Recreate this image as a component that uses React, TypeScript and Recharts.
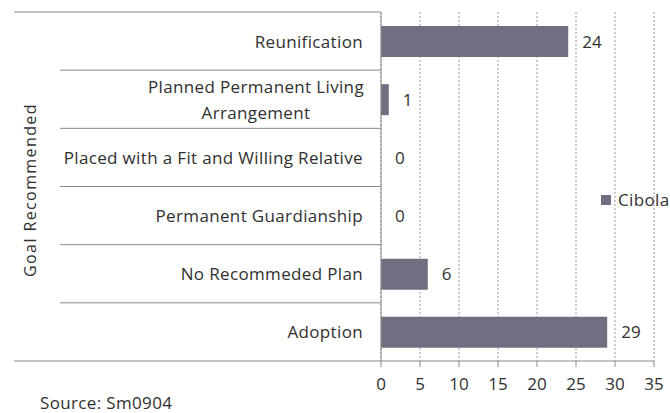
import React from 'react';
import { BarChart, Bar, XAxis, YAxis, CartesianGrid, LabelList, Legend } from 'recharts';

const categories = [
  'Reunification',
  'Planned Permanent Living Arrangement',
  'Placed with a Fit and Willing Relative',
  'Permanent Guardianship',
  'No Recommeded Plan',
  'Adoption',
];
const cibolaValues = [24, 1, 0, 0, 6, 29];
const xTicks = [0, 5, 10, 15, 20, 25, 30, 35];
const seriesName = 'Cibola';
const axisTitle = 'Goal Recommended';
const sourceNote = 'Source: Sm0904';

const data = categories.map((c, i) => ({ name: c, value: cibolaValues[i] }));

const W = 670;
const H = 413;
const MARGIN = { top: 12, right: 16, bottom: 22, left: 0 };
const X_AXIS_H = 30;
const Y_AXIS_W = 381;
const PLOT_H = H - MARGIN.top - MARGIN.bottom - X_AXIS_H;
const FONT = '"Open Sans", sans-serif';
const FS = 17;
const LS = 0.35;
const TEXT = '#303030';
const LINE = '#8a8a8a';
const BAR = '#6f6f81';

const wrapMap: Record<string, string[]> = {
  'Planned Permanent Living Arrangement': ['Planned Permanent Living', 'Arrangement'],
};

const CategoryTick = (props: any) => {
  const { y, payload, index } = props;
  const band = PLOT_H / categories.length;
  const top = y - band / 2;
  const bottom = y + band / 2;
  const right = Y_AXIS_W - 18;
  const lines = wrapMap[payload.value] || [payload.value];
  const isFirst = index === 0;
  const isLast = index === categories.length - 1;
  let textEl;
  if (lines.length === 1) {
    textEl = (
      <text x={right} y={y} textAnchor="end" dominantBaseline="central" fontSize={FS} fill={TEXT} fontFamily={FONT} letterSpacing={LS}>
        {lines[0]}
      </text>
    );
  } else {
    const center = right - 107;
    textEl = (
      <text textAnchor="middle" fontSize={FS} fill={TEXT} fontFamily={FONT} letterSpacing={LS}>
        {lines.map((l, i) => (
          <tspan key={i} x={center} y={y + (i - (lines.length - 1) / 2) * 26} dominantBaseline="central">
            {l}
          </tspan>
        ))}
      </text>
    );
  }
  return (
    <g>
      <line x1={isFirst ? 14 : 60} x2={Y_AXIS_W} y1={top} y2={top} stroke={LINE} strokeWidth={1} />
      {isLast && <line x1={14} x2={Y_AXIS_W} y1={bottom} y2={bottom} stroke={LINE} strokeWidth={1} />}
      {textEl}
    </g>
  );
};

const LegendContent = () => (
  <div style={{ display: 'flex', alignItems: 'center', fontFamily: FONT, fontSize: FS, color: TEXT, letterSpacing: LS, whiteSpace: 'nowrap' }}>
    <span style={{ display: 'inline-block', width: 10, height: 10, background: BAR, marginRight: 7 }} />
    <span>{seriesName}</span>
  </div>
);

export default function App() {
  return (
    <div style={{ position: 'absolute', left: 0, top: 0, width: W, height: H, background: '#fff', overflow: 'hidden' }}>
      <BarChart width={W} height={H} data={data} layout="vertical" margin={MARGIN} barSize={31}>
        <CartesianGrid horizontal={false} vertical={true} stroke="#9a9a9a" strokeDasharray="2 2" />
        <XAxis
          type="number"
          domain={[0, 35]}
          ticks={xTicks}
          height={X_AXIS_H}
          axisLine={{ stroke: LINE }}
          tickLine={{ stroke: LINE }}
          tickSize={6}
          tickMargin={11}
          tick={{ fontSize: FS, fill: TEXT, fontFamily: FONT }}
          interval={0}
        />
        <YAxis
          type="category"
          dataKey="name"
          width={Y_AXIS_W}
          axisLine={{ stroke: LINE }}
          tickLine={false}
          tick={<CategoryTick />}
          interval={0}
        />
        <Legend
          layout="horizontal"
          align="center"
          verticalAlign="middle"
          content={<LegendContent />}
          wrapperStyle={{ left: 601, top: 188, width: 'auto' }}
        />
        <Bar dataKey="value" name={seriesName} fill={BAR} isAnimationActive={false} minPointSize={0.01}>
          <LabelList dataKey="value" position="right" offset={14} fontSize={FS} fill={TEXT} fontFamily={FONT} />
        </Bar>
      </BarChart>
      <div
        style={{
          position: 'absolute',
          left: 30,
          top: 190,
          transform: 'translate(-50%, -50%) rotate(-90deg)',
          fontFamily: FONT,
          fontSize: 16,
          color: TEXT,
          whiteSpace: 'nowrap',
          letterSpacing: 1.4,
        }}
      >
        {axisTitle}
      </div>
      <div
        style={{
          position: 'absolute',
          left: 40,
          top: 392,
          fontFamily: FONT,
          fontSize: FS,
          color: TEXT,
          whiteSpace: 'nowrap',
          letterSpacing: LS,
          lineHeight: '22px',
        }}
      >
        {sourceNote}
      </div>
    </div>
  );
}
